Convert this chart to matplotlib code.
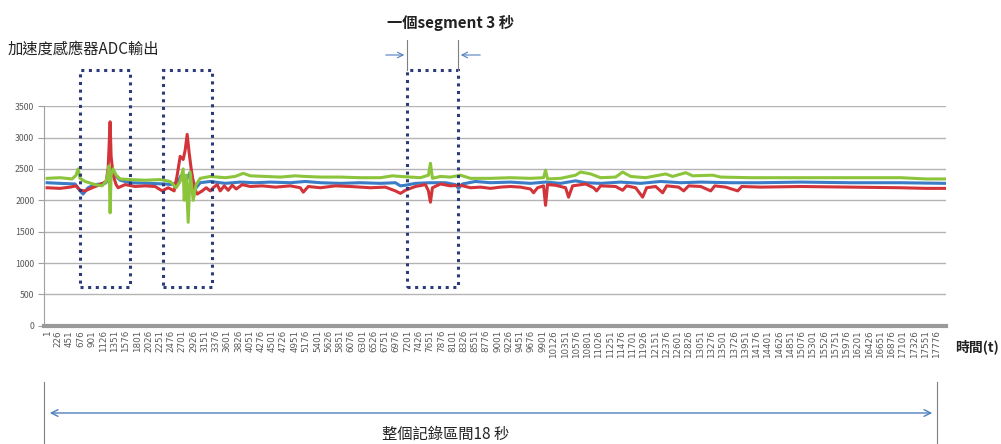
import numpy as np
import matplotlib
matplotlib.use("Agg")
import matplotlib.pyplot as plt
from matplotlib.patches import Rectangle

plt.rcParams['font.family'] = ['Noto Sans CJK TC', 'DejaVu Sans']

# datos (índice de muestra, valor ADC)
blue_x = [1, 260, 560, 660, 720, 820, 960, 1160, 1260, 1300, 1360, 1460, 1660, 2060, 2360, 2500,
          2620, 2680, 2740, 2800, 2860, 2920, 2980, 3060, 3260, 3560, 3860, 4160, 4460, 4860, 5160,
          5460, 5860, 6260, 6660, 6960, 7060, 7160, 7360, 7660, 7960, 8160, 8220, 8300, 8560, 8860,
          9260, 9660, 9960, 10260, 10560, 10760, 11060, 11460, 11860, 12260, 12660, 13060, 13660,
          14260, 15060, 16060, 17060, 17950]
blue_y = [2280, 2270, 2260, 2150, 2100, 2200, 2250, 2270, 2350, 2500, 2400, 2320, 2280, 2270, 2260,
          2250, 2300, 2400, 2300, 2350, 2450, 2300, 2200, 2280, 2300, 2270, 2290, 2280, 2290, 2280,
          2300, 2280, 2270, 2280, 2270, 2280, 2230, 2240, 2270, 2280, 2280, 2250, 2190, 2260, 2300,
          2280, 2290, 2270, 2290, 2270, 2310, 2280, 2270, 2290, 2270, 2300, 2280, 2290, 2280, 2280,
          2290, 2280, 2280, 2270]

red_x = [1, 260, 460, 580, 660, 760, 900, 1060, 1180, 1220, 1260, 1280, 1320, 1380, 1420, 1560,
         1760, 1960, 2160, 2300, 2420, 2540, 2600, 2660, 2720, 2760, 2800, 2840, 2880, 2940, 3000,
         3100, 3180, 3260, 3320, 3400, 3460, 3540, 3620, 3700, 3780, 3900, 4060, 4300, 4560, 4860,
         5060, 5120, 5220, 5460, 5760, 6060, 6460, 6760, 6960, 7060, 7160, 7360, 7560, 7620, 7660,
         7700, 7860, 8060, 8260, 8460, 8660, 8860, 9060, 9260, 9460, 9660, 9720, 9800, 9920, 9960,
         10000, 10160, 10360, 10420, 10500, 10760, 10920, 10980, 11060, 11360, 11500, 11580, 11760,
         11900, 11980, 12160, 12300, 12380, 12620, 12720, 12820, 13060, 13260, 13340, 13560, 13800,
         13880, 14260, 15060, 16060, 17060, 17560, 17950]
red_y = [2200, 2190, 2210, 2230, 2160, 2150, 2200, 2250, 2300, 2500, 3250, 2700, 2400, 2250, 2200,
         2250, 2220, 2230, 2220, 2150, 2200, 2150, 2400, 2700, 2650, 2800, 3050, 2750, 2500, 2200,
         2100, 2150, 2200, 2150, 2200, 2250, 2150, 2230, 2160, 2240, 2180, 2250, 2220, 2230, 2210,
         2230, 2200, 2130, 2220, 2200, 2230, 2220, 2200, 2210, 2150, 2110, 2160, 2220, 2250, 2150,
         1970, 2200, 2260, 2230, 2240, 2200, 2210, 2190, 2210, 2220, 2210, 2180, 2120, 2200, 2230,
         1920, 2250, 2240, 2200, 2050, 2230, 2260, 2200, 2150, 2230, 2220, 2160, 2230, 2200, 2050,
         2200, 2220, 2120, 2230, 2210, 2150, 2230, 2220, 2150, 2230, 2210, 2150, 2220, 2210, 2220,
         2210, 2200, 2190, 2190]

green_x = [1, 260, 500, 580, 620, 660, 760, 960, 1100, 1180, 1220, 1240, 1260, 1280, 1320, 1380,
           1460, 1660, 1960, 2260, 2460, 2580, 2660, 2720, 2740, 2780, 2820, 2860, 2920, 2980, 3060,
           3260, 3560, 3760, 3920, 4060, 4360, 4660, 4960, 5160, 5460, 5860, 6260, 6660, 6900, 7060,
           7260, 7460, 7620, 7660, 7700, 7860, 8060, 8260, 8460, 8860, 9260, 9660, 9920, 9960, 10000,
           10260, 10560, 10660, 10860, 11060, 11360, 11500, 11660, 11960, 12360, 12500, 12760, 12900,
           13300, 13460, 14060, 15060, 16060, 17060, 17560, 17950]
green_y = [2350, 2360, 2340, 2400, 2500, 2350, 2300, 2250, 2230, 2300, 2450, 2550, 1800, 2400, 2500,
           2400, 2340, 2330, 2320, 2330, 2300, 2200, 2300, 2500, 2000, 2400, 1650, 2450, 2000, 2250,
           2350, 2380, 2360, 2380, 2430, 2390, 2380, 2370, 2390, 2380, 2370, 2370, 2360, 2360, 2390,
           2380, 2370, 2360, 2400, 2590, 2350, 2380, 2370, 2400, 2350, 2350, 2360, 2350, 2360, 2480,
           2340, 2350, 2400, 2450, 2420, 2360, 2370, 2450, 2380, 2360, 2420, 2380, 2440, 2390, 2400,
           2370, 2360, 2360, 2360, 2360, 2340, 2340]

x_ticks = list(range(1, 17777, 225))
y_ticks = [0, 500, 1000, 1500, 2000, 2500, 3000, 3500]

# segmentos marcados (inicio, fin) en muestras
boxes = [(660, 1660), (2320, 3300), (7200, 8220)]

fig = plt.figure(figsize=(10.01, 4.44), dpi=100)
ax = fig.add_axes([0.044, 0.266, 0.901, 0.495])

ax.plot(blue_x, blue_y, color='#3a7cc6', lw=2.2)
ax.plot(red_x, red_y, color='#d3343a', lw=2.2)
ax.plot(green_x, green_y, color='#8cc43c', lw=2.2)

ax.set_xlim(-60, 17960)
ax.set_ylim(0, 3500)
ax.set_yticks(y_ticks)
ax.set_yticklabels([str(v) for v in y_ticks], fontsize=6.3, color='#595959')
ax.set_xticks(x_ticks)
ax.set_xticklabels([str(v) for v in x_ticks], rotation=90, fontsize=6.3, color='#595959',
                   family='DejaVu Sans')
ax.tick_params(axis='x', length=0, pad=3)
ax.tick_params(axis='y', length=4, color='#a0a0a0', pad=3)
for v in y_ticks[1:]:
    ax.axhline(v, color='#b4b4b4', lw=1, zorder=0)
for s in ['top', 'right']:
    ax.spines[s].set_visible(False)
ax.spines['left'].set_color('#a0a0a0')
ax.spines['bottom'].set_color('#9a9a9a')
ax.spines['bottom'].set_linewidth(3)

# cajas punteadas
for a, b in boxes:
    ax.add_patch(Rectangle((a, 620), b - a, 3450, fill=False, ec='#2b3a78', lw=2.2,
                           ls=(0, (1, 1.5)), clip_on=False, zorder=5))

fig.text(0.008, 0.89, '加速度感應器ADC輸出', fontsize=11, style='italic', color='#222222',
         va='center', ha='left')
fig.text(0.954, 0.218, '時間(t)', fontsize=10, style='italic', weight='bold', color='#222222',
         va='center', ha='left')

# anotación de un segmento
fig.text(0.450, 0.948, '一個segment 3 秒', fontsize=11, weight='bold', color='#222222',
         ha='center', va='center')
for xf in [407 / 1001, 458 / 1001]:
    fig.add_artist(plt.Line2D([xf, xf], [1 - 40 / 444, 1 - 70 / 444], color='#7f7f7f', lw=0.8))
plt.annotate('', xy=(407 / 1001, 1 - 55 / 444), xytext=(383 / 1001, 1 - 55 / 444),
             xycoords='figure fraction',
             arrowprops=dict(arrowstyle='->', color='#4f81bd', lw=0.8))
plt.annotate('', xy=(458 / 1001, 1 - 55 / 444), xytext=(483 / 1001, 1 - 55 / 444),
             xycoords='figure fraction',
             arrowprops=dict(arrowstyle='->', color='#4f81bd', lw=0.8))

# intervalo total
for xf in [44 / 1001, 937 / 1001]:
    fig.add_artist(plt.Line2D([xf, xf], [0, 1 - 382 / 444], color='#7f7f7f', lw=0.8))
plt.annotate('', xy=(935 / 1001, 1 - 413 / 444), xytext=(47 / 1001, 1 - 413 / 444),
             xycoords='figure fraction',
             arrowprops=dict(arrowstyle='<->', color='#4f81bd', lw=1, mutation_scale=12))
fig.text(0.445, 0.022, '整個記錄區間18 秒', fontsize=11, color='#222222', ha='center', va='center')

fig.savefig('out.png', dpi=100)
